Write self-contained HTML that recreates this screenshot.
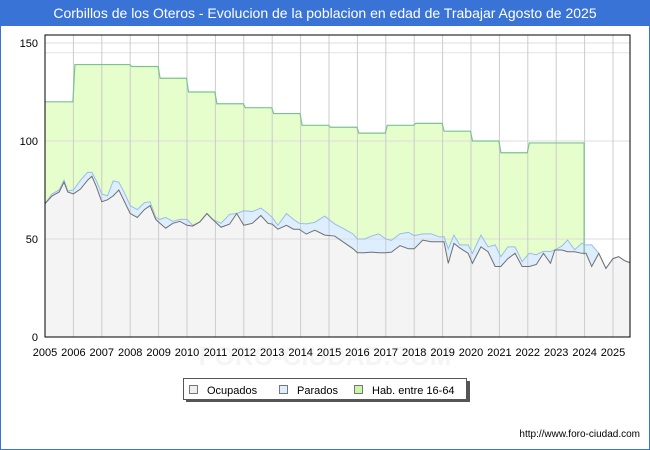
<!DOCTYPE html>
<html><head><meta charset="utf-8"><style>
html,body{margin:0;padding:0;background:#fff;}
#wrap{position:relative;width:648px;height:448px;border:1px solid #3a73d6;overflow:hidden;font-family:"Liberation Sans","DejaVu Sans",sans-serif;}
#title{position:absolute;left:0;top:0;width:648px;height:25px;background:#3a73d6;color:#fff;font-size:14px;line-height:24px;text-align:center;}
svg{position:absolute;left:-1px;top:-1px;}
</style></head><body>
<div id="wrap">
<svg id="chart" width="650" height="450"></svg>
<div id="title">Corbillos de los Oteros - Evolucion de la poblacion en edad de Trabajar Agosto de 2025</div>
</div>
<script>
const habYears = [2005,2006,2007,2008,2009,2010,2011,2012,2013,2014,2015,2016,2017,2018,2019,2020,2021,2022,2023];
const habValues = [120,139,139,138,132,125,119,117,114,108,107,104,108,109,105,100,94,99,99];
const times = [2005,2005.25,2005.5,2005.67,2005.8,2006,2006.25,2006.5,2006.65,2006.8,2007,2007.2,2007.4,2007.6,2007.8,2008,2008.25,2008.5,2008.7,2008.9,2009.05,2009.25,2009.5,2009.75,2010,2010.2,2010.45,2010.7,2010.9,2011.2,2011.5,2011.75,2012,2012.3,2012.6,2012.85,2013,2013.2,2013.5,2013.75,2013.95,2014.2,2014.5,2014.85,2015.2,2015.55,2015.85,2016,2016.25,2016.5,2016.75,2017,2017.2,2017.5,2017.8,2018,2018.3,2018.6,2018.9,2019.05,2019.2,2019.4,2019.6,2019.9,2020.05,2020.35,2020.6,2020.85,2021.05,2021.3,2021.55,2021.8,2022.05,2022.3,2022.55,2022.8,2022.95,2023.2,2023.4,2023.65,2023.9,2024.05,2024.25,2024.5,2024.75,2025,2025.2,2025.4,2025.58];
const ocupados = [68,72,74,79,74,73,75.5,80,82,77,69,70,72,75,69,63,61,65,67,60,58,55.5,58,59,57,56.6,58.7,63,60,56,57.6,63,57,58,62,58,57.6,55,57,55,55,52.5,54.5,52,51.5,48,45,43,43,43.3,43,43,43.3,46.6,45,45,49.4,48.6,48.6,48.6,37.6,47.8,45.5,42.7,37.6,46,43.5,36,36,40,42.7,36,36,37,42.7,37.6,44.4,44.4,43.5,43.5,42.7,42.7,36,42.7,35,40,41,39,38];
const parados = [0,1,1,1,0.5,2,4.5,4,2,3,4,2,7.6,4,4.5,4,4,3.5,2,1,2,5.5,1,1,3,0.4,-1.7,-1,0,2,5,-1,7.4,6,3.8,5,3.4,2,6,5,3,5.2,4,9.7,6.2,7,7.5,7,7,8.2,9.6,7,6,6,8.4,6.7,3.2,4,2.4,2.6,7.4,4.2,1.5,4.3,5.1,6,2.5,11,5,6,3.3,2.5,6.7,5,1,6,-1,2,6,1,5.1,4.3,11,0,0,0,0,0,0];
const yTicks=[0,50,100,150];
const xTicks=[2005,2006,2007,2008,2009,2010,2011,2012,2013,2014,2015,2016,2017,2018,2019,2020,2021,2022,2023,2024,2025];

const L=45,R=630,T=35,B=337;
const xs=t=>L+(t-2005)*28.4;
const ys=v=>B-v*1.96;
const svg=document.getElementById('chart');
const NS='http://www.w3.org/2000/svg';
const FF='Liberation Sans, DejaVu Sans, sans-serif';
function mk(tag,attrs){const e=document.createElementNS(NS,tag);for(const k in attrs)e.setAttribute(k,attrs[k]);svg.appendChild(e);return e;}

const wm=mk('text',{x:325,y:365,'text-anchor':'middle','font-size':26,fill:'#f5f5f5','font-weight':'bold','font-family':FF});wm.textContent='FORO-CIUDAD.COM';



// hab area
let hp=[];habYears.forEach((y,i)=>{const x0=i==0?xs(y):xs(y)+1.5;hp.push([x0,ys(habValues[i])],[xs(y+1)-0.5,ys(habValues[i])]);});
const habLine='M'+hp.map(p=>p.join(',')).join(' L');
const last=xs(habYears[habYears.length-1]+1)-0.5;
const ha=mk('path',{d:habLine+` L${last},${B} L${L},${B} Z`,fill:'#e6fdcc',stroke:'none'});



const totPts=times.map((t,i)=>[xs(t),ys(ocupados[i]+Math.max(0,parados[i]))]);
const ocPts=times.map((t,i)=>[xs(t),ys(ocupados[i])]);
const lastX=xs(times[times.length-1]);
const pa=mk('path',{d:'M'+totPts.map(p=>p.join(',')).join(' L')+` L${lastX},${B} L${L},${B} Z`,fill:'#ddeeff',stroke:'none'});


const oa=mk('path',{d:'M'+ocPts.map(p=>p.join(',')).join(' L')+` L${lastX},${B} L${L},${B} Z`,fill:'#f4f4f4',stroke:'none'});



// grid over fills
yTicks.forEach(v=>{const g=mk('line',{x1:L,x2:R,y1:ys(v),y2:ys(v),stroke:'#dddddd','stroke-width':1});


const t=mk('text',{x:L-7,y:ys(v)+4,'text-anchor':'end','font-size':11,fill:'#000','font-family':FF});t.textContent=v;

});
const g145=mk('line',{x1:L,x2:R,y1:ys(145),y2:ys(145),stroke:'#e4e4e4'});


xTicks.forEach(y=>{if(y>2005){const g=mk('line',{x1:xs(y),x2:xs(y),y1:T,y2:B,stroke:'#cccccc','stroke-width':1});

}
const t=mk('text',{x:xs(y),y:B+19,'text-anchor':'middle','font-size':11,fill:'#000','font-family':FF});t.textContent=y;

});

const hl=mk('path',{d:habLine+` L${last},${ys(42)}`,fill:'none',stroke:'#7cc293','stroke-width':1.2});


const pl=mk('path',{d:'M'+totPts.map(p=>p.join(',')).join(' L'),fill:'none',stroke:'#9bbcec','stroke-width':1});


const ol=mk('path',{d:'M'+ocPts.map(p=>p.join(',')).join(' L'),fill:'none',stroke:'#707070','stroke-width':1});



const frame=mk('rect',{x:L,y:T,width:R-L,height:B-T,fill:'none',stroke:'#000','stroke-width':1});



// legend
const sh=mk('rect',{x:186,y:381,width:284,height:21,fill:'#555'});


const lb=mk('rect',{x:183.5,y:378.5,width:283,height:21,fill:'#fff',stroke:'#555'});


const leg=[['Ocupados','#eeeeee',189],['Parados','#ddeeff',279],['Hab. entre 16-64','#ccf5a8',354]];
leg.forEach(l=>{const r=mk('rect',{x:l[2]+0.5,y:385.5,width:8,height:8,fill:l[1],stroke:'#777'});


const t=mk('text',{x:l[2]+18,y:394,'font-size':11,fill:'#000','font-family':FF});t.textContent=l[0];

});

const url=mk('text',{x:640,y:437,'text-anchor':'end','font-size':10,fill:'#000','font-family':FF});url.textContent='http://www.foro-ciudad.com';


</script>
</body></html>
